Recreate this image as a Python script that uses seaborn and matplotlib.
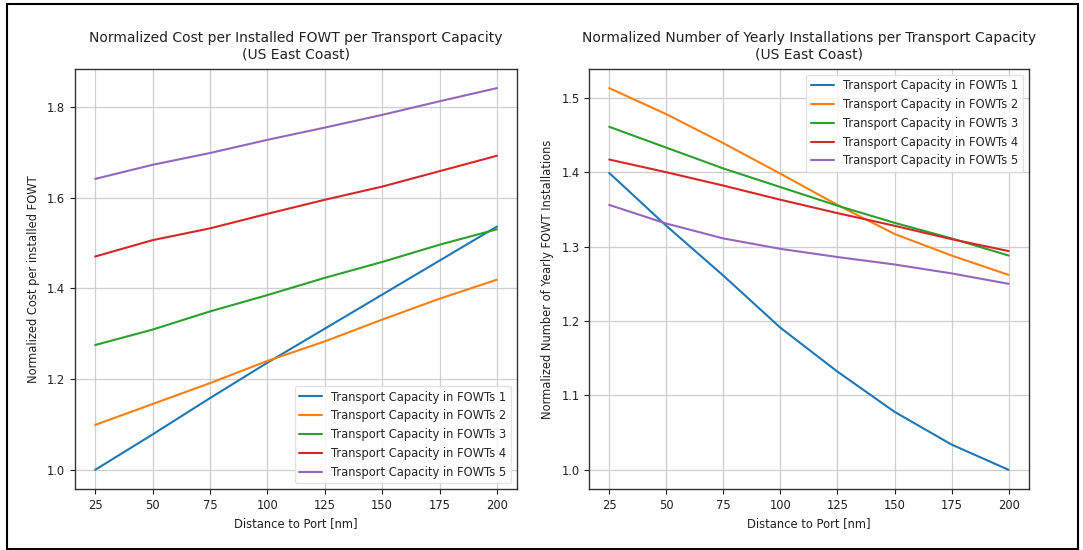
import matplotlib
matplotlib.use("Agg")
import matplotlib.pyplot as plt
from matplotlib.patches import Rectangle
import pandas as pd
import seaborn as sns

# Distance to port (nautical miles)
distance = [25, 50, 75, 100, 125, 150, 175, 200]

# Transport capacity (number of FOWTs per trip)
capacities = [1, 2, 3, 4, 5]

# Normalized cost per installed FOWT, one list per transport capacity
cost_cap1 = [1.000, 1.078, 1.158, 1.236, 1.311, 1.386, 1.461, 1.536]
cost_cap2 = [1.099, 1.145, 1.191, 1.240, 1.283, 1.331, 1.377, 1.419]
cost_cap3 = [1.275, 1.309, 1.349, 1.385, 1.423, 1.458, 1.496, 1.530]
cost_cap4 = [1.470, 1.506, 1.532, 1.564, 1.595, 1.624, 1.658, 1.692]
cost_cap5 = [1.641, 1.672, 1.698, 1.727, 1.754, 1.782, 1.812, 1.841]

# Normalized number of yearly FOWT installations, one list per transport capacity
inst_cap1 = [1.399, 1.328, 1.261, 1.191, 1.132, 1.078, 1.034, 1.000]
inst_cap2 = [1.513, 1.478, 1.439, 1.398, 1.356, 1.317, 1.288, 1.262]
inst_cap3 = [1.461, 1.433, 1.405, 1.380, 1.355, 1.332, 1.311, 1.288]
inst_cap4 = [1.417, 1.400, 1.382, 1.363, 1.345, 1.328, 1.310, 1.294]
inst_cap5 = [1.356, 1.331, 1.311, 1.297, 1.286, 1.276, 1.264, 1.250]

cost_series = [cost_cap1, cost_cap2, cost_cap3, cost_cap4, cost_cap5]
inst_series = [inst_cap1, inst_cap2, inst_cap3, inst_cap4, inst_cap5]
series_label = "Transport Capacity in FOWTs {}"


def long_table(series):
    rows = []
    for cap, values in zip(capacities, series):
        for d, v in zip(distance, values):
            rows.append({"distance": d, "value": v,
                         "capacity": series_label.format(cap)})
    return pd.DataFrame(rows)


sns.set_style("white")
plt.rcParams["font.family"] = ["DejaVu Sans"]
plt.rcParams["axes.edgecolor"] = "#333333"
plt.rcParams["axes.linewidth"] = 1.0

palette = sns.color_palette("tab10", 5)

fig = plt.figure(figsize=(10.83, 5.5), dpi=100)
ax1 = fig.add_axes([0.0693, 0.111, 0.4081, 0.7635])
ax2 = fig.add_axes([0.5441, 0.111, 0.4057, 0.7635])

panels = [
    (ax1, cost_series,
     "Normalized Cost per Installed FOWT per Transport Capacity\n(US East Coast)",
     "Normalized Cost per installed FOWT", "lower right"),
    (ax2, inst_series,
     "Normalized Number of Yearly Installations per Transport Capacity\n(US East Coast)",
     "Normalized Number of Yearly FOWT Installations", "upper right"),
]

for ax, series, title, ylabel, loc in panels:
    df = long_table(series)
    sns.lineplot(data=df, x="distance", y="value", hue="capacity",
                 palette=palette, linewidth=1.5, ax=ax)
    ax.set_title(title, fontsize=10, color="#222222", pad=7.5)
    ax.set_xlabel("Distance to Port [nm]", fontsize=8.3, color="#222222")
    ax.set_ylabel(ylabel, fontsize=8.3, color="#222222", labelpad=5)
    ax.set_xticks(distance)
    ax.tick_params(labelsize=8.3, colors="#222222", length=3.5,
                   left=True, bottom=True)
    ax.grid(True, color="#cfcfcf", linewidth=0.9)
    ax.set_axisbelow(True)
    leg = ax.legend(loc=loc, fontsize=8.3, frameon=True)
    leg.get_frame().set_edgecolor("#dddddd")
    leg.set_title(None)

ax1.set_yticks([1.0, 1.2, 1.4, 1.6, 1.8])
ax2.set_yticks([1.0, 1.1, 1.2, 1.3, 1.4, 1.5])

# Outer frame around the whole figure
fig.patches.append(Rectangle((7 / 1083, 1 - 549 / 550), 1071 / 1083, 545 / 550,
                             transform=fig.transFigure, fill=False,
                             edgecolor="black", linewidth=1.5))

fig.savefig("out.png", dpi=100)
